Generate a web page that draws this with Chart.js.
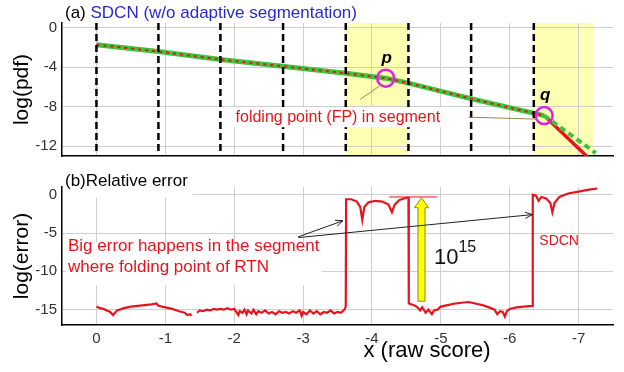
<!DOCTYPE html>
<html>
<head>
<meta charset="utf-8">
<script src="https://cdn.jsdelivr.net/npm/chart.js@4.4.1/dist/chart.umd.min.js"></script>
<style>
  html, body { margin: 0; padding: 0; background: #fff; }
  #wrap { position: relative; width: 624px; height: 372px; }
  #pdfChart { position: absolute; left: 0; top: 0; }
  #errChart { position: absolute; left: 0; top: 170px; }
</style>
</head>
<body>
<div id="wrap">
  <canvas id="pdfChart" width="624" height="170"></canvas>
  <canvas id="errChart" width="624" height="202"></canvas>
</div>
<script>
const FONT = "'Liberation Sans', Arial, sans-serif"
const RED = "#e8141c"

// axes
const xTicks = [0, -1, -2, -3, -4, -5, -6, -7]
const pdfTicks = [0, -4, -8, -12]
const errTicks = [0, -5, -10, -15]

// segment boundaries (dashed lines) and the segments holding a folding point
const segBounds = [0, -0.9, -1.8, -2.71, -3.62, -4.53, -5.44, -6.35]
const foldSegStart = [-3.62, -6.35]
const foldSegEnd = [-4.53, -7.22]

// (a) log(pdf)
const pdfX = [0, -0.9, -1.8, -2.7, -3.62, -4.2, -4.53, -5.45, -6.5, -7.25]
const pdfTrue = [-1.7, -2.4, -3.2, -3.9, -4.6, -5.1, -5.6, -7.2, -8.9, -13.9]
const pdfSdcn = [-1.7, -2.4, -3.2, -3.9, -4.6, -5.1, -5.6, -7.2, -8.9, -12.7]
const fpX = [-4.2, -6.5]
const fpY = [-5.1, -8.9]
const fpLabels = ["p", "q"]
const tailFrom = 8 // index of q: the two curves part after it

// (b) log(relative error)
const errX = [
  0, -0.05, -0.1, -0.15, -0.2, -0.24, -0.26, -0.3, -0.4, -0.5, -0.6, -0.7, -0.8, -0.87, -0.9,
  -1.0, -1.1, -1.2, -1.28, -1.32, -1.36, -1.38, -1.42, -1.46, -1.5, -1.55, -1.6, -1.65, -1.7,
  -1.75, -1.8, -1.85, -1.9, -1.95, -2.0, -2.03, -2.06, -2.08, -2.12, -2.15, -2.18, -2.2, -2.25,
  -2.28, -2.32, -2.35, -2.4, -2.45, -2.5, -2.55, -2.6, -2.65, -2.7, -2.75, -2.8, -2.85, -2.9,
  -2.95, -2.98, -3.0, -3.05, -3.1, -3.15, -3.2, -3.25, -3.3, -3.35, -3.4, -3.45, -3.5, -3.55,
  -3.6, -3.62, -3.625, -3.7, -3.78, -3.83, -3.86, -3.89, -3.95, -4.05, -4.15, -4.24, -4.29,
  -4.33, -4.4, -4.5, -4.53, -4.535, -4.6, -4.65, -4.7, -4.73, -4.78, -4.82, -4.87, -4.9, -4.95,
  -5.0, -5.1, -5.2, -5.3, -5.4, -5.5, -5.6, -5.7, -5.78, -5.82, -5.86, -5.9, -5.93, -5.96, -6.0,
  -6.1, -6.2, -6.33, -6.335, -6.38, -6.42, -6.46, -6.53, -6.59, -6.62, -6.65, -6.72, -6.85,
  -7.0, -7.15, -7.27
]
const errY = [
  -14.6, -14.8, -14.9, -15.1, -15.3, -15.7, -15.5, -15.1, -14.8, -14.6, -14.5, -14.4, -14.3, -14.2, -14.5,
  -14.7, -14.9, -15.2, -15.4, -15.7, -15.6, -15.8, null, -15.4, -15.1, -15.2, -15.0, -15.1, -14.9,
  -15.0, -14.9, -15.0, -14.8, -15.0, -14.9, -15.3, -15.7, -15.2, -15.4, -15.0, -15.6, -15.1, -15.5,
  -15.0, -15.6, -15.2, -15.4, -15.1, -15.5, -15.3, -15.6, -15.2, -15.4, -15.3, -15.5, -15.2, -15.4,
  -15.1, -15.8, -15.3, -15.6, -15.1, -15.5, -15.2, -15.6, -15.3, -15.4, -15.1, -15.5, -15.3, -15.4,
  -15.0, -14.6, -0.6, -0.6, -0.9, -1.6, -3.3, -1.6, -1.0, -0.8, -0.9, -1.3, -2.3,
  -1.3, -0.7, -0.4, -0.4, -14.2, -14.4, -14.6, -15.1, -14.7, -15.4, -15.0, -15.6, -15.1, -15.0,
  -14.6, -14.4, -14.2, -14.1, -14.0, -14.2, -14.4, -14.7, -15.0, -15.6, -15.2, -15.3, -15.9, -15.2, -14.9,
  -14.7, -14.6, -14.5, 0.0, -0.1, -0.8, -0.3, -0.5, -1.1, -2.3, -1.1, -0.3, 0.15,
  0.4, 0.65, 0.8
]

function xy(xs, ys, from, to) {
  return xs.map((x, i) => ({ x: x, y: ys[i] })).slice(from, to)
}

function arrow(ctx, x0, y0, x1, y1, color) {
  const a = Math.atan2(y1 - y0, x1 - x0)
  ctx.save()
  ctx.strokeStyle = color
  ctx.lineWidth = 1
  ctx.beginPath()
  ctx.moveTo(x0, y0)
  ctx.lineTo(x1, y1)
  ctx.moveTo(x1 - 8 * Math.cos(a - 0.4), y1 - 8 * Math.sin(a - 0.4))
  ctx.lineTo(x1, y1)
  ctx.lineTo(x1 - 8 * Math.cos(a + 0.4), y1 - 8 * Math.sin(a + 0.4))
  ctx.stroke()
  ctx.restore()
}

function xScale(extra) {
  return Object.assign({
    type: "linear",
    min: -7.5,
    max: 0.5,
    reverse: true,
    afterBuildTicks: s => { s.ticks = xTicks.map(v => ({ value: v })) },
    grid: { color: "#cfcfcf", lineWidth: 1, drawTicks: false },
    border: { color: "#000", width: 1.5 }
  }, extra)
}

function yScale(min, max, ticks, title) {
  return {
    type: "linear",
    min: min,
    max: max,
    afterBuildTicks: s => { s.ticks = ticks.map(v => ({ value: v })) },
    afterFit: s => { s.width = 62 },
    grid: { color: "#cfcfcf", lineWidth: 1, drawTicks: false },
    border: { color: "#000", width: 1.5 },
    ticks: { color: "#333", font: { family: FONT, size: 15 }, padding: 5 },
    title: { display: true, text: title, color: "#000", font: { family: FONT, size: 21 }, padding: { top: 10, bottom: 0 } }
  }
}

// datasets listed first are painted last (on top)
function lineSet(data, color, width, dash) {
  return { data: data, borderColor: color, borderWidth: width, borderDash: dash, pointRadius: 0, tension: 0 }
}

const shadePlugin = {
  id: "shade",
  beforeDraw(chart) {
    const { ctx, chartArea, scales } = chart
    ctx.save()
    ctx.fillStyle = "#ffffb4"
    foldSegStart.forEach((s, i) => {
      const a = scales.x.getPixelForValue(s)
      const b = scales.x.getPixelForValue(foldSegEnd[i])
      ctx.fillRect(a, chartArea.top, b - a, chartArea.bottom - chartArea.top)
    })
    ctx.restore()
  }
}

const pdfDecor = {
  id: "pdfDecor",
  afterDatasetsDraw(chart) {
    const { ctx, chartArea, scales } = chart
    const X = v => scales.x.getPixelForValue(v)
    const Y = v => scales.y.getPixelForValue(v)
    ctx.save()
    // segment boundaries
    ctx.strokeStyle = "#000"
    ctx.lineWidth = 2.5
    ctx.setLineDash([7, 4])
    segBounds.forEach(s => {
      ctx.beginPath()
      ctx.moveTo(X(s), chartArea.top)
      ctx.lineTo(X(s), chartArea.bottom)
      ctx.stroke()
    })
    ctx.setLineDash([])
    // folding points
    ctx.strokeStyle = "#e020e0"
    ctx.lineWidth = 2.5
    fpX.forEach((x, i) => {
      ctx.beginPath()
      ctx.arc(X(x), Y(fpY[i]), 8.5, 0, Math.PI * 2)
      ctx.stroke()
    })
    ctx.fillStyle = "#000"
    ctx.font = "italic bold 17px " + FONT
    ctx.textAlign = "center"
    ctx.textBaseline = "middle"
    fpX.forEach((x, i) => {
      ctx.fillText(fpLabels[i], X(x) + 1, Y(fpY[i]) - 20)
    })
    // pointers
    ctx.strokeStyle = "#9a8a4a"
    ctx.lineWidth = 1
    ctx.beginPath()
    ctx.moveTo(X(-3.83), Y(-7.25))
    ctx.lineTo(X(-4.14), Y(-5.75))
    ctx.moveTo(X(-5.4), Y(-9.06))
    ctx.lineTo(X(-6.41), Y(-9.26))
    ctx.stroke()
    // label
    const label = "folding point (FP) in segment"
    ctx.font = "16px " + FONT
    ctx.textAlign = "left"
    const w = ctx.measureText(label).width
    const lx = X(-2.02), ly = Y(-9.06)
    ctx.fillStyle = "#fff"
    ctx.fillRect(lx - 2, ly - 10, w + 4, 20)
    ctx.fillStyle = RED
    ctx.fillText(label, lx, ly)
    // title
    ctx.font = "17px " + FONT
    ctx.fillStyle = "#000"
    ctx.fillText("(a)", 65, 13)
    const aw = ctx.measureText("(a) ").width
    ctx.fillStyle = "#2a2ad0"
    ctx.fillText("SDCN (w/o adaptive segmentation)", 65 + aw, 13)
    ctx.restore()
  }
}

const errDecor = {
  id: "errDecor",
  afterDatasetsDraw(chart) {
    const { ctx, chartArea, scales } = chart
    const X = v => scales.x.getPixelForValue(v)
    const Y = v => scales.y.getPixelForValue(v)
    ctx.save()
    // title
    ctx.fillStyle = "#fff"
    ctx.fillRect(chartArea.left + 1, 0, 130, Y(-0.4))
    ctx.fillStyle = "#000"
    ctx.font = "17px " + FONT
    ctx.textBaseline = "middle"
    ctx.fillText("(b)Relative error", 65, 11)
    // reference level line
    ctx.strokeStyle = RED
    ctx.lineWidth = 1
    ctx.beginPath()
    ctx.moveTo(X(-4.25), Y(-0.3))
    ctx.lineTo(X(-4.95), Y(-0.3))
    ctx.stroke()
    // yellow arrow
    const ax = X(-4.72), y0 = Y(-13.9), y1 = Y(-0.4)
    ctx.fillStyle = "#ffff00"
    ctx.strokeStyle = "#8a8a20"
    ctx.beginPath()
    ctx.moveTo(ax - 3.5, y0)
    ctx.lineTo(ax - 3.5, y1 + 10)
    ctx.lineTo(ax - 7, y1 + 10)
    ctx.lineTo(ax, y1)
    ctx.lineTo(ax + 7, y1 + 10)
    ctx.lineTo(ax + 3.5, y1 + 10)
    ctx.lineTo(ax + 3.5, y0)
    ctx.closePath()
    ctx.fill()
    ctx.stroke()
    // 10^15
    ctx.fillStyle = "#111"
    ctx.font = "22px " + FONT
    ctx.textAlign = "left"
    const tx = X(-4.9), ty = Y(-8.2)
    ctx.fillText("10", tx, ty)
    const tw = ctx.measureText("10").width
    ctx.font = "16px " + FONT
    ctx.fillText("15", tx + tw, ty - 10)
    // note
    const nx = 68
    ctx.font = "17px " + FONT
    const l1 = "Big error happens in the segment"
    const l2 = "where folding point of RTN"
    const w1 = ctx.measureText(l1).width
    ctx.fillStyle = "#fff"
    ctx.fillRect(nx - 2, Y(-6.2), w1 + 4, Y(-11.8) - Y(-6.2))
    ctx.fillStyle = RED
    ctx.fillText(l1, nx, Y(-6.7))
    ctx.fillText(l2, nx, Y(-9.5))
    // pointers to the two failing segments
    arrow(ctx, X(-2.93), Y(-5.5), X(-3.58), Y(-3.4), "#222")
    arrow(ctx, X(-2.93), Y(-5.6), X(-6.33), Y(-2.6), "#222")
    // legend tag
    ctx.fillStyle = RED
    ctx.font = "14px " + FONT
    ctx.fillText("SDCN", X(-6.43), Y(-6.0))
    // x title
    ctx.fillStyle = "#000"
    ctx.font = "22px " + FONT
    ctx.textAlign = "center"
    ctx.fillText("x (raw score)", X(-4.8), 181)
    ctx.restore()
  }
}

new Chart(document.getElementById("pdfChart"), {
  type: "line",
  data: {
    datasets: [
      lineSet(xy(pdfX, pdfTrue, 0, tailFrom + 1), RED, 2, [3, 4]),
      lineSet(xy(pdfX, pdfSdcn, 0, tailFrom + 1), "#3cc43c", 5, []),
      lineSet(xy(pdfX, pdfSdcn, tailFrom), "#3cc43c", 4, [6, 4]),
      lineSet(xy(pdfX, pdfTrue, tailFrom), RED, 3.5, [])
    ]
  },
  options: {
    responsive: false,
    animation: false,
    layout: { padding: { left: 0, right: 11, top: 23, bottom: 13 } },
    plugins: { legend: { display: false }, tooltip: { enabled: false } },
    scales: {
      x: xScale({ ticks: { display: false }, afterFit: s => { s.height = 0 } }),
      y: yScale(-13, 0.5, pdfTicks, "log(pdf)")
    }
  },
  plugins: [shadePlugin, pdfDecor]
})

new Chart(document.getElementById("errChart"), {
  type: "line",
  data: {
    datasets: [Object.assign(lineSet(xy(errX, errY), RED, 2.2, []), { spanGaps: false })]
  },
  options: {
    responsive: false,
    animation: false,
    layout: { padding: { left: 0, right: 11, top: 17, bottom: 0 } },
    plugins: { legend: { display: false }, tooltip: { enabled: false } },
    scales: {
      x: xScale({
        ticks: { color: "#333", font: { family: FONT, size: 15 }, padding: 5, maxRotation: 0 },
        afterFit: s => { s.height = 47 }
      }),
      y: yScale(-17, 1, errTicks, "log(error)")
    }
  },
  plugins: [errDecor]
})
</script>
</body>
</html>
